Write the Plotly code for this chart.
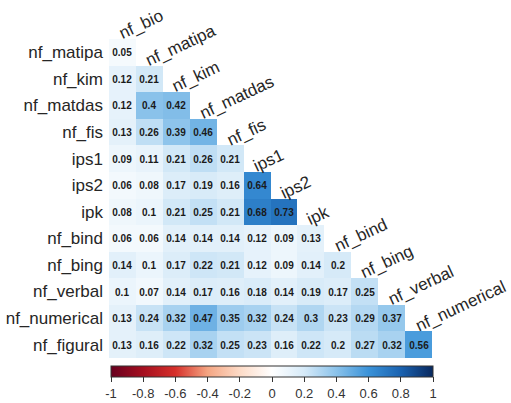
import math
import plotly.graph_objects as go

variables = ["nf_bio", "nf_matipa", "nf_kim", "nf_matdas", "nf_fis", "ips1", "ips2",
             "ipk", "nf_bind", "nf_bing", "nf_verbal", "nf_numerical", "nf_figural"]
row_labels = variables[1:]
col_labels = variables[:-1]

r_nf_matipa = [0.05]
r_nf_kim = [0.12, 0.21]
r_nf_matdas = [0.12, 0.4, 0.42]
r_nf_fis = [0.13, 0.26, 0.39, 0.46]
r_ips1 = [0.09, 0.11, 0.21, 0.26, 0.21]
r_ips2 = [0.06, 0.08, 0.17, 0.19, 0.16, 0.64]
r_ipk = [0.08, 0.1, 0.21, 0.25, 0.21, 0.68, 0.73]
r_nf_bind = [0.06, 0.06, 0.14, 0.14, 0.14, 0.12, 0.09, 0.13]
r_nf_bing = [0.14, 0.1, 0.17, 0.22, 0.21, 0.12, 0.09, 0.14, 0.2]
r_nf_verbal = [0.1, 0.07, 0.14, 0.17, 0.16, 0.18, 0.14, 0.19, 0.17, 0.25]
r_nf_numerical = [0.13, 0.24, 0.32, 0.47, 0.35, 0.32, 0.24, 0.3, 0.23, 0.29, 0.37]
r_nf_figural = [0.13, 0.16, 0.22, 0.32, 0.25, 0.23, 0.16, 0.22, 0.2, 0.27, 0.32, 0.56]

rows = [r_nf_matipa, r_nf_kim, r_nf_matdas, r_nf_fis, r_ips1, r_ips2, r_ipk,
        r_nf_bind, r_nf_bing, r_nf_verbal, r_nf_numerical, r_nf_figural]

cbar_ticks = [-1, -0.8, -0.6, -0.4, -0.2, 0, 0.2, 0.4, 0.6, 0.8, 1]
cbar_ticktext = ["-1", "-0.8", "-0.6", "-0.4", "-0.2", "0", "0.2", "0.4", "0.6", "0.8", "1"]

n = len(row_labels)
z = []
txt = []
for r in rows:
    z.append(list(r) + [None] * (n - len(r)))
    txt.append([("%g" % v) for v in r] + [""] * (n - len(r)))

colorscale = [
    [0.0, "#67001F"],
    [0.1, "#A50F1F"],
    [0.2, "#D6302B"],
    [0.3, "#F4A582"],
    [0.4, "#FDDBC7"],
    [0.5, "#FFFFFF"],
    [0.6, "#D6EAF8"],
    [0.7, "#8AC2EA"],
    [0.8, "#3A92D8"],
    [0.9, "#1A62B0"],
    [1.0, "#08285E"],
]

FONT = "Liberation Sans, Arial, sans-serif"
W, H = 511, 403
ML, MR, MT, MB = 109, 79, 39, 45
plot_w = W - ML - MR
plot_h = H - MT - MB
cell_w = plot_w / n
cell_h = plot_h / n

fig = go.Figure(go.Heatmap(
    z=z,
    x=list(range(n)),
    y=list(range(n)),
    text=txt,
    texttemplate="%{text}",
    textfont=dict(size=10, color="#1a1a1a", family=FONT, weight="bold"),
    colorscale=colorscale,
    zmin=-1, zmax=1,
    hoverongaps=False,
    colorbar=dict(
        orientation="h",
        x=2 / plot_w, xanchor="left",
        y=-8 / plot_h, yanchor="top",
        len=322, lenmode="pixels",
        thickness=11,
        xpad=0, ypad=0,
        outlinewidth=1, outlinecolor="#333333",
        tickvals=cbar_ticks,
        ticktext=cbar_ticktext,
        ticks="outside", ticklen=5, tickcolor="#333333",
        tickfont=dict(size=13, color="#333333", family=FONT),
    ),
))

# approximate Arial advance widths (per em) for placing rotated diagonal labels
ADV = {"n": .556, "f": .278, "_": .556, "b": .556, "i": .222, "o": .556, "m": .833,
       "a": .556, "t": .278, "p": .556, "k": .5, "d": .556, "s": .5, "1": .556,
       "2": .556, "g": .556, "v": .5, "e": .556, "r": .333, "l": .222, "u": .556,
       "c": .5}
LBL_SIZE = 17
ANGLE = 25
th = math.radians(ANGLE)
annotations = []
for k, lab in enumerate(col_labels):
    w = sum(ADV.get(ch, .556) for ch in lab) * LBL_SIZE
    # baseline start relative to diagonal cell (column k, row k-1) centre
    bx, by = 0.0, 14.0
    cx = bx + (w / 2) * math.cos(th) - 6 * math.sin(th)
    cy = by - (w / 2) * math.sin(th) - 6 * math.cos(th) - cell_h  # relative to row k
    annotations.append(dict(
        x=k, y=k, xref="x", yref="y",
        text=lab, showarrow=False,
        textangle=-ANGLE,
        xanchor="center", yanchor="middle",
        xshift=cx, yshift=-cy,
        borderpad=0,
        font=dict(size=LBL_SIZE, color="#262626", family=FONT),
    ))

fig.update_layout(
    width=W, height=H,
    margin=dict(l=ML, r=MR, t=MT, b=MB, autoexpand=False),
    paper_bgcolor="white",
    plot_bgcolor="white",
    annotations=annotations,
    xaxis=dict(range=[-0.5, n - 0.5], showticklabels=False, showgrid=False,
               zeroline=False, ticks=""),
    yaxis=dict(range=[n - 0.5, -0.5], tickvals=list(range(n)), ticktext=row_labels,
               showgrid=False, zeroline=False, ticks="", ticklabelstandoff=5,
               tickfont=dict(size=17, color="#262626", family=FONT)),
)

fig.write_html("out.html")
